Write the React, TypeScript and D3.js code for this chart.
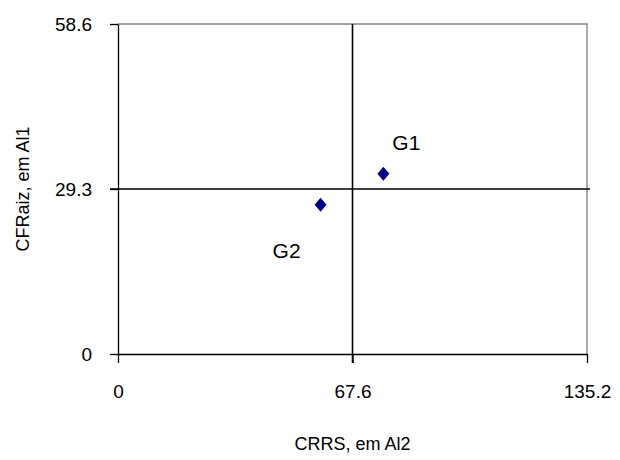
import React, { useEffect, useRef } from "react";
import * as d3 from "d3";

// data
const groups = ["G1", "G2"];
const crrs = [76.5, 58.4];
const cfraiz = [32.0, 26.5];
const xTicks = [0, 67.6, 135.2];
const yTicks = [0, 29.3, 58.6];
const xMean = 67.6;
const yMean = 29.3;

function App() {
    const ref = useRef(null);

    useEffect(() => {
        const width = 620;
        const height = 460;
        const marginLeft = 118;
        const marginRight = 33;
        const marginTop = 24;
        const marginBottom = 106;
        const font = "'Liberation Sans', Arial, sans-serif";

        const svg = d3.select(ref.current);
        svg.selectAll("*").remove();

        const x = d3
            .scaleLinear()
            .domain([0, 135.2])
            .range([marginLeft, width - marginRight]);
        const y = d3
            .scaleLinear()
            .domain([0, 58.6])
            .range([height - marginBottom, marginTop]);

        // top / right frame in grey
        svg.append("path")
            .attr("d", `M${x(0)},${y(58.6)}H${x(135.2)}V${y(0)}`)
            .attr("fill", "none")
            .attr("stroke", "#808080")
            .attr("stroke-width", 1.3);

        // y axis
        const yAxis = svg
            .append("g")
            .attr("transform", `translate(${x(0)},0)`)
            .call(
                d3
                    .axisLeft(y)
                    .tickValues(yTicks)
                    .tickSize(8)
                    .tickSizeOuter(0)
                    .tickPadding(18)
                    .tickFormat((d) => String(d))
            );
        yAxis.select(".domain").attr("stroke", "#000").attr("stroke-width", 1.3);
        yAxis.selectAll("line").attr("stroke", "#000").attr("stroke-width", 1.3);
        yAxis
            .selectAll("text")
            .attr("font-family", font)
            .attr("font-size", 19)
            .attr("fill", "#000");

        // x axis, labels well below
        const xAxis = svg
            .append("g")
            .attr("transform", `translate(0,${y(0)})`)
            .call(
                d3
                    .axisBottom(x)
                    .tickValues(xTicks)
                    .tickSize(9)
                    .tickSizeOuter(0)
                    .tickPadding(22)
                    .tickFormat((d) => String(d))
            );
        xAxis.select(".domain").attr("stroke", "#000").attr("stroke-width", 1.3);
        xAxis.selectAll("line").attr("stroke", "#000").attr("stroke-width", 1.3);
        xAxis
            .selectAll("text")
            .attr("font-family", font)
            .attr("font-size", 19)
            .attr("fill", "#000");

        // mean lines
        svg.append("line")
            .attr("x1", x(0) - 8)
            .attr("x2", x(135.2) + 3)
            .attr("y1", y(yMean))
            .attr("y2", y(yMean))
            .attr("stroke", "#000")
            .attr("stroke-width", 1.6);
        svg.append("line")
            .attr("x1", x(xMean))
            .attr("x2", x(xMean))
            .attr("y1", y(58.6))
            .attr("y2", y(0) + 9)
            .attr("stroke", "#000")
            .attr("stroke-width", 1.6);

        // points
        const pts = groups.map((g, i) => ({ g, cx: crrs[i], cy: cfraiz[i] }));
        svg.append("g")
            .selectAll("path")
            .data(pts)
            .join("path")
            .attr("transform", (d) => `translate(${x(d.cx)},${y(d.cy)})`)
            .attr("d", "M0,-7L6,0L0,7L-6,0Z")
            .attr("fill", "#000080");

        // data labels
        const offsets = { G1: [9, -24], G2: [-48, 53] };
        svg.append("g")
            .selectAll("text")
            .data(pts)
            .join("text")
            .attr("x", (d) => x(d.cx) + offsets[d.g][0])
            .attr("y", (d) => y(d.cy) + offsets[d.g][1])
            .attr("font-family", font)
            .attr("font-size", 21)
            .text((d) => d.g);

        // axis titles
        svg.append("text")
            .attr("x", x(xMean))
            .attr("y", 450)
            .attr("text-anchor", "middle")
            .attr("font-family", font)
            .attr("font-size", 18)
            .text("CRRS, em Al2");
        svg.append("text")
            .attr("transform", `translate(29,${y(yMean)}) rotate(-90)`)
            .attr("text-anchor", "middle")
            .attr("font-family", font)
            .attr("font-size", 18)
            .text("CFRaiz, em Al1");
    }, []);

    return (
        <svg
            ref={ref}
            width={620}
            height={460}
            viewBox="0 0 620 460"
            style={{ position: "absolute", left: 0, top: 0, background: "#fff" }}
        />
    );
}

export default App;
